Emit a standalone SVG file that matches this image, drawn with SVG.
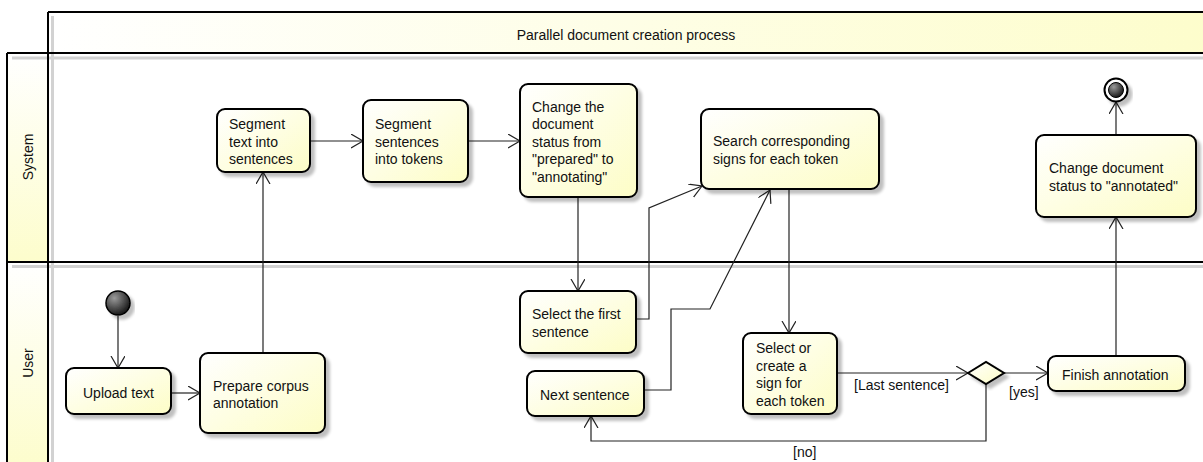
<svg xmlns="http://www.w3.org/2000/svg" width="1203" height="462" viewBox="0 0 1203 462">
  <style>
    .lbl { font-family: "Liberation Sans", Arial, sans-serif; font-size: 14px; fill: #111; }
    .node { fill: url(#nodeFill); stroke: #000; stroke-width: 2; filter: url(#shadow); }
    .edge { fill: none; stroke: #222; stroke-width: 1.2; }
    .arrow { marker-end: url(#open); }
    .lane { fill: none; stroke: #000; stroke-width: 2; }
    .laneShadow { stroke: #d2d2d2; stroke-width: 3; fill: none; }
  </style>
  <defs>
    <linearGradient id="nodeFill" x1="0" y1="0" x2="1" y2="1">
      <stop offset="0" stop-color="#ffffff"/>
      <stop offset="1" stop-color="#fdfdc6"/>
    </linearGradient>
    <linearGradient id="headFill" x1="0" y1="0" x2="1" y2="0">
      <stop offset="0" stop-color="#ffffff"/>
      <stop offset="0.5" stop-color="#fefee6"/>
      <stop offset="1" stop-color="#fdfdcc"/>
    </linearGradient>
    <linearGradient id="laneFill" x1="0" y1="0" x2="0" y2="1">
      <stop offset="0" stop-color="#ffffff"/>
      <stop offset="1" stop-color="#fdfdcc"/>
    </linearGradient>
    <radialGradient id="dot" cx="0.35" cy="0.3" r="0.75">
      <stop offset="0" stop-color="#9a9a9a"/>
      <stop offset="1" stop-color="#111"/>
    </radialGradient>
    <filter id="shadow" x="-20%" y="-20%" width="140%" height="150%">
      <feGaussianBlur in="SourceAlpha" stdDeviation="1.5"/>
      <feOffset dx="4" dy="4" result="b"/>
      <feComponentTransfer><feFuncA type="linear" slope="0.25"/></feComponentTransfer>
      <feMerge><feMergeNode/><feMergeNode in="SourceGraphic"/></feMerge>
    </filter>
    <marker id="open" markerUnits="userSpaceOnUse" markerWidth="14" markerHeight="16" viewBox="0 0 14 16" refX="12" refY="7" orient="auto">
      <path d="M0,0 L12,7 L0,14" fill="none" stroke="#222" stroke-width="1.2"/>
    </marker>
  </defs>

  <!-- swimlane frame -->
  <g id="swimlanes">
    <rect x="48" y="12" width="1160" height="41" fill="url(#headFill)"/>
    <rect x="7" y="53" width="41" height="209" fill="url(#laneFill)"/>
    <rect x="7" y="262" width="41" height="205" fill="url(#laneFill)"/>
    <path class="laneShadow" d="M52.5,16 V462 M12,58 H1203 M12,266.5 H1203"/>
    <path class="lane" d="M48,12 H1210 M48,12 V462 M7,53 H1210 M7,53 V462 M7,262 H1210"/>
    <text class="lbl" x="626" y="40" text-anchor="middle">Parallel document creation process</text>
    <text class="lbl" transform="translate(32.5,157) rotate(-90)" text-anchor="middle">System</text>
    <text class="lbl" transform="translate(32.5,363) rotate(-90)" text-anchor="middle">User</text>
  </g>

  <!-- connectors -->
  <g id="connectors">
    <path class="edge arrow" d="M118,316 V368"/>
    <path class="edge arrow" d="M171,393 H200"/>
    <path class="edge arrow" d="M263,353 V172"/>
    <path class="edge arrow" d="M310,141 H363"/>
    <path class="edge arrow" d="M468,141 H520"/>
    <path class="edge arrow" d="M578,197 V291"/>
    <path class="edge arrow" d="M636,319 H649 V208 L702,186"/>
    <path class="edge arrow" d="M644,390 H671 V309 H710 L770,190"/>
    <path class="edge arrow" d="M789,189 V333"/>
    <path class="edge arrow" d="M837,373 H968"/>
    <path class="edge arrow" d="M1004,373 H1048"/>
    <path class="edge arrow" d="M986,384 V441 H591 V416"/>
    <path class="edge arrow" d="M1116,356 V217"/>
    <path class="edge arrow" d="M1116,135 V102"/>
    <text class="lbl" x="854" y="390">[Last sentence]</text>
    <text class="lbl" x="1009" y="397">[yes]</text>
    <text class="lbl" x="793" y="457">[no]</text>
  </g>

  <!-- start -->
  <g id="start">
    <circle cx="118" cy="303" r="12" fill="url(#dot)" stroke="#000" stroke-width="1.5" filter="url(#shadow)"/>
  </g>

  <g id="upload-text">
    <rect class="node" x="66" y="368" width="105" height="46" rx="8"/>
    <text class="lbl" x="83" y="398">Upload text</text>
  </g>

  <g id="prepare-corpus">
    <rect class="node" x="200" y="353" width="125" height="80" rx="8"/>
    <text class="lbl" x="213" y="391">Prepare corpus</text>
    <text class="lbl" x="213" y="408">annotation</text>
  </g>

  <g id="segment-text">
    <rect class="node" x="217" y="109" width="93" height="63" rx="8"/>
    <text class="lbl" x="229" y="129">Segment</text>
    <text class="lbl" x="229" y="147">text into</text>
    <text class="lbl" x="229" y="164">sentences</text>
  </g>

  <g id="segment-sentences">
    <rect class="node" x="363" y="100" width="105" height="82" rx="8"/>
    <text class="lbl" x="375" y="129">Segment</text>
    <text class="lbl" x="375" y="147">sentences</text>
    <text class="lbl" x="375" y="164">into tokens</text>
  </g>

  <g id="change-status-annotating">
    <rect class="node" x="520" y="84" width="117" height="113" rx="8"/>
    <text class="lbl" x="532" y="112">Change the</text>
    <text class="lbl" x="532" y="129">document</text>
    <text class="lbl" x="532" y="147">status from</text>
    <text class="lbl" x="532" y="164">"prepared" to</text>
    <text class="lbl" x="532" y="182">"annotating"</text>
  </g>

  <g id="search-signs">
    <rect class="node" x="701" y="109" width="178" height="80" rx="8"/>
    <text class="lbl" x="713" y="146">Search corresponding</text>
    <text class="lbl" x="713" y="164">signs for each token</text>
  </g>

  <g id="select-first">
    <rect class="node" x="520" y="291" width="116" height="62" rx="8"/>
    <text class="lbl" x="532" y="319">Select the first</text>
    <text class="lbl" x="532" y="337">sentence</text>
  </g>

  <g id="next-sentence">
    <rect class="node" x="527" y="371" width="117" height="45" rx="8"/>
    <text class="lbl" x="540" y="400">Next sentence</text>
  </g>

  <g id="select-create-sign">
    <rect class="node" x="743" y="333" width="94" height="81" rx="8"/>
    <text class="lbl" x="756" y="353">Select or</text>
    <text class="lbl" x="756" y="371">create a</text>
    <text class="lbl" x="756" y="388">sign for</text>
    <text class="lbl" x="756" y="406">each token</text>
  </g>

  <g id="last-sentence-decision">
    <path d="M968,373 L986,362 L1004,373 L986,384 Z" fill="url(#nodeFill)" stroke="#000" stroke-width="2" filter="url(#shadow)"/>
  </g>

  <g id="finish-annotation">
    <rect class="node" x="1048" y="356" width="137" height="35" rx="8"/>
    <text class="lbl" x="1062" y="380">Finish annotation</text>
  </g>

  <g id="change-status-annotated">
    <rect class="node" x="1036" y="135" width="160" height="82" rx="8"/>
    <text class="lbl" x="1049" y="173">Change document</text>
    <text class="lbl" x="1049" y="191">status to "annotated"</text>
  </g>

  <g id="end">
    <circle cx="1116" cy="90" r="11.5" fill="#fff" stroke="#000" stroke-width="2" filter="url(#shadow)"/>
    <circle cx="1116" cy="90" r="7.5" fill="url(#dot)" stroke="#000" stroke-width="1"/>
  </g>
</svg>
